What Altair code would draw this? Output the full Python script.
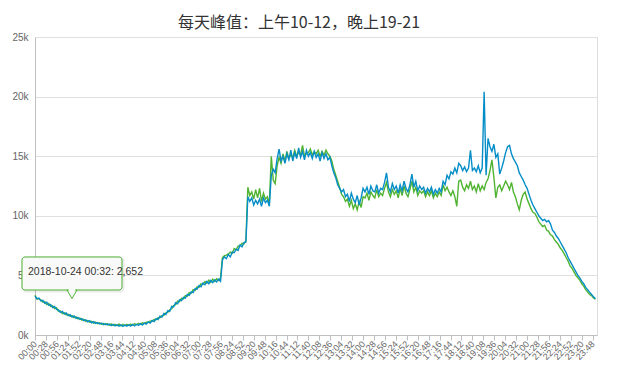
import altair as alt
import pandas as pd

TITLE = "每天峰值：上午10-12，晚上19-21"

# minute of day for each sample (5-minute steps)
MINUTES = list(range(0, 1440, 5))

# values, in thousands
BLUE_K = [
    3.25, 3.05, 3.10, 2.85, 2.90, 2.65, 2.75, 2.50, 2.55, 2.30, 2.40, 2.15,
    2.10, 1.90, 1.98, 1.75, 1.85, 1.62, 1.70, 1.50, 1.60, 1.40, 1.48, 1.30,
    1.38, 1.20, 1.28, 1.10, 1.20, 1.02, 1.12, 0.98, 1.05, 0.92, 1.00, 0.86,
    0.96, 0.84, 0.92, 0.78, 0.90, 0.76, 0.86, 0.74, 0.85, 0.72, 0.84, 0.75,
    0.86, 0.74, 0.88, 0.76, 0.90, 0.80, 0.95, 0.84, 1.00, 0.92, 1.10, 1.00,
    1.22, 1.12, 1.38, 1.30, 1.58, 1.50, 1.80, 1.72, 2.05, 1.98, 2.40, 2.35,
    2.70, 2.62, 2.95, 2.88, 3.15, 3.10, 3.40, 3.32, 3.62, 3.55, 3.90, 3.85,
    4.15, 4.05, 4.35, 4.22, 4.50, 4.30, 4.58, 4.40, 4.62, 4.45, 4.68, 4.50,
    6.30, 6.55, 6.40, 6.75, 6.55, 6.95, 6.90, 7.20, 7.10, 7.55, 7.40, 7.75,
    7.80, 11.6, 11.2, 11.5, 10.9, 11.3, 11.0, 11.4, 10.8, 11.5, 11.1, 11.3,
    10.8, 13.4, 13.9, 13.6, 14.8, 15.6, 14.6, 15.0, 14.4, 15.2, 14.7, 15.5,
    14.6, 15.3, 14.8, 15.7, 14.9, 15.4, 14.7, 15.5, 15.0, 15.3, 14.8, 15.4,
    14.9, 15.2, 14.6, 15.3, 14.8, 15.2, 14.7, 14.9, 14.2, 13.6, 13.2, 12.6,
    12.3, 12.0, 12.2, 11.6, 11.8, 11.2, 11.9, 11.4, 11.1, 11.7, 10.9, 11.5,
    12.3, 12.0, 12.4, 11.8, 12.5, 12.1, 12.0, 12.6, 11.9, 12.3, 12.2, 12.8,
    13.6, 12.4, 12.0, 12.7, 12.2, 12.5, 11.9, 12.6, 12.1, 12.9, 12.3, 12.0,
    12.6, 13.5, 12.4, 12.9, 12.1, 12.5, 12.2, 12.4, 11.9, 12.3, 12.0, 12.4,
    11.8, 12.2, 11.9, 12.3, 12.0, 12.9, 12.6, 13.4, 13.1, 13.7, 13.5, 14.0,
    13.6, 14.4, 14.2, 13.8, 14.1, 13.7, 14.0, 15.5, 13.8, 14.0, 13.7, 14.2,
    13.6, 14.0, 20.4, 13.4, 16.5, 15.8, 15.4, 16.0, 14.9, 15.2, 13.5, 14.0,
    14.6, 15.3, 15.8, 15.9, 15.2, 14.8, 14.5, 14.2, 13.6, 13.3, 13.0, 12.6,
    12.3, 11.8, 11.3, 10.9, 10.6, 10.3, 10.0, 9.8, 9.6, 9.7, 9.5, 9.6,
    9.3, 8.8, 8.6, 8.3, 8.1, 7.8, 7.5, 7.2, 6.9, 6.5, 6.2, 5.9,
    5.6, 5.3, 5.0, 4.8, 4.5, 4.3, 4.0, 3.8, 3.6, 3.4, 3.2, 3.05,
]

GREEN_K = [
    3.35, 3.00, 3.05, 2.95, 2.75, 2.80, 2.55, 2.65, 2.40, 2.45, 2.22, 2.30,
    2.00, 2.02, 1.80, 1.88, 1.68, 1.74, 1.55, 1.62, 1.45, 1.52, 1.35, 1.42,
    1.25, 1.32, 1.15, 1.22, 1.08, 1.14, 1.00, 1.08, 0.95, 1.02, 0.90, 0.98,
    0.86, 0.95, 0.82, 0.93, 0.80, 0.90, 0.78, 0.92, 0.77, 0.90, 0.78, 0.89,
    0.80, 0.92, 0.82, 0.95, 0.86, 0.98, 0.90, 1.02, 0.97, 1.08, 1.05, 1.18,
    1.15, 1.30, 1.28, 1.45, 1.45, 1.62, 1.65, 1.85, 1.90, 2.12, 2.20, 2.48,
    2.55, 2.85, 2.80, 3.08, 3.02, 3.30, 3.25, 3.55, 3.50, 3.80, 3.75, 4.05,
    4.00, 4.30, 4.25, 4.48, 4.35, 4.60, 4.42, 4.68, 4.50, 4.72, 4.58, 4.78,
    6.50, 6.65, 6.70, 6.80, 6.95, 6.85, 7.25, 7.15, 7.45, 7.50, 7.70, 7.65,
    7.90, 12.4, 11.7, 12.0, 11.4, 12.2, 11.5, 12.3, 11.2, 11.9, 11.4, 11.6,
    11.0, 15.0, 13.0, 12.7, 14.2, 14.9, 14.4, 15.2, 14.6, 15.4, 14.8, 15.1,
    14.9, 15.5, 15.0, 15.3, 15.1, 15.9, 15.0, 15.2, 15.3, 15.6, 15.1, 15.4,
    15.2, 15.5, 15.0, 15.4, 15.1, 15.5, 15.2, 15.0, 14.6, 13.9, 13.4, 12.9,
    12.4, 11.8, 11.6, 11.2, 11.4, 10.8, 11.3, 10.6, 11.0, 10.5, 11.2, 10.7,
    11.6, 11.5, 11.9, 11.3, 12.0, 11.7, 11.5, 12.2, 11.6, 11.9, 11.7, 12.3,
    12.8, 12.0, 11.6, 12.2, 11.8, 12.1, 11.5, 12.3, 11.7, 12.5, 11.9, 11.6,
    12.2, 12.9, 12.0, 12.4, 11.7, 12.1, 11.9, 12.1, 11.6, 12.0, 11.7, 12.1,
    11.5, 11.9, 11.6, 12.0, 11.7, 12.6, 12.1, 12.4, 12.0, 11.7, 12.1, 11.6,
    10.8, 12.9, 13.0, 12.4, 12.1, 12.6, 12.3, 12.9, 12.2, 12.5, 12.0, 12.7,
    12.1, 12.5, 12.2, 12.8, 13.1, 13.8, 14.7, 13.2, 11.5, 12.4, 12.6, 12.1,
    12.5, 12.9, 12.6, 12.2, 12.8, 12.0, 11.6, 11.0, 10.5, 11.3, 11.8, 12.0,
    11.4, 11.0, 10.6, 10.3, 10.2, 9.9, 9.5, 9.3, 9.1, 9.2, 8.8, 8.7,
    8.4, 8.3, 8.0, 7.8, 7.6, 7.3, 7.1, 6.8, 6.5, 6.2, 5.8, 5.6,
    5.3, 5.0, 4.8, 4.6, 4.3, 4.1, 3.8, 3.6, 3.4, 3.3, 3.1, 3.0,
]

X_TICKS = list(range(0, 1429, 28))          # 00:00, 00:28, ... 23:48
Y_TICKS = [0, 5000, 10000, 15000, 20000, 25000]

TIP_MINUTE = [32]
TIP_VALUE = [2652]
TIP_LABEL = ["2018-10-24 00:32: 2,652"]

GREEN = "#50B432"
BLUE = "#058DC7"
NARROW = "Liberation Sans Narrow, Liberation Sans, Arial"

green_df = pd.DataFrame({"minute": MINUTES, "value": [v * 1000 for v in GREEN_K]})
blue_df = pd.DataFrame({"minute": MINUTES, "value": [v * 1000 for v in BLUE_K]})
tip_df = pd.DataFrame({"minute": TIP_MINUTE, "value": TIP_VALUE, "label": TIP_LABEL})

x_axis = alt.Axis(
    values=X_TICKS,
    labelExpr="utcFormat(datum.value * 60000, '%H:%M')",
    labelAngle=315,
    labelAlign="right",
    labelBaseline="middle",
    labelPadding=2,
    labelFontSize=9,
    labelFont=NARROW,
    labelColor="#666666",
    labelOverlap=False,
    labelBound=False,
    labelFlush=False,
    tickSize=5,
    tickColor="#C0C0C0",
    domainColor="#C0C0C0",
    domainWidth=1,
    grid=False,
)
y_axis = alt.Axis(
    values=Y_TICKS,
    labelExpr="(datum.value / 1000) + 'k'",
    labelFontSize=10,
    labelFont=NARROW,
    labelColor="#666666",
    labelPadding=7,
    ticks=False,
    domainColor="#C0C0C0",
    grid=True,
    gridColor="#E0E0E0",
    gridWidth=1,
)
x_scale = alt.Scale(domain=[0, 1439], nice=False, zero=False)
y_scale = alt.Scale(domain=[0, 25000], nice=False)


def xy():
    return dict(
        x=alt.X("minute:Q", title=None, scale=x_scale, axis=x_axis),
        y=alt.Y("value:Q", title=None, scale=y_scale, axis=y_axis),
    )


green_line = alt.Chart(green_df).mark_line(color=GREEN, strokeWidth=1.4).encode(**xy())
blue_line = alt.Chart(blue_df).mark_line(color=BLUE, strokeWidth=1.4).encode(**xy())

tip = alt.Chart(tip_df)
pos = dict(**xy(), x2="minute", y2="value")
shadow = tip.mark_rect(
    xOffset=-24.5, x2Offset=75.5, yOffset=-45.4, y2Offset=-12.4,
    fill=None, fillOpacity=0, stroke="#000000", strokeOpacity=0.08, strokeWidth=3, cornerRadius=3,
).encode(**pos)
box = tip.mark_rect(
    xOffset=-25.5, x2Offset=74.5, yOffset=-46.4, y2Offset=-13.4,
    fill="#F9F9F9", stroke=GREEN, strokeWidth=1, cornerRadius=3,
).encode(**pos)
arrow = tip.mark_point(
    shape="triangle-down", size=100, filled=True, fill="#F9F9F9", stroke=GREEN,
    strokeWidth=1, opacity=1, xOffset=24.5, yOffset=-9.1,
).encode(**xy())
arrow_cover = tip.mark_point(
    shape="triangle-down", size=60, filled=True, fill="#F9F9F9", strokeWidth=0,
    opacity=1, xOffset=24.5, yOffset=-11.2,
).encode(**xy())
tip_text = tip.mark_text(
    align="left", baseline="middle", dx=-19.5, dy=-31.4,
    font=NARROW, fontSize=10.5, color="#333333",
).encode(**xy(), text="label:N")

chart = (
    alt.layer(green_line, blue_line, shadow, box, arrow, arrow_cover, tip_text)
    .properties(
        width=562,
        height=298,
        autosize=alt.AutoSizeParams(type="none"),
        padding={"left": 27, "top": 29, "right": 16, "bottom": 32},
        title=alt.TitleParams(
            TITLE, anchor="middle", dx=-17, offset=1,
            font="Noto Sans CJK SC", fontSize=16, fontWeight="normal", color="#333333",
        ),
    )
    .configure_view(stroke="#DCDCDC", strokeWidth=2)
    .configure_axisX(labelOverlap=False)
    .configure(background="white")
)

chart.save("out.html", embed_options={"renderer": "svg", "actions": False})
